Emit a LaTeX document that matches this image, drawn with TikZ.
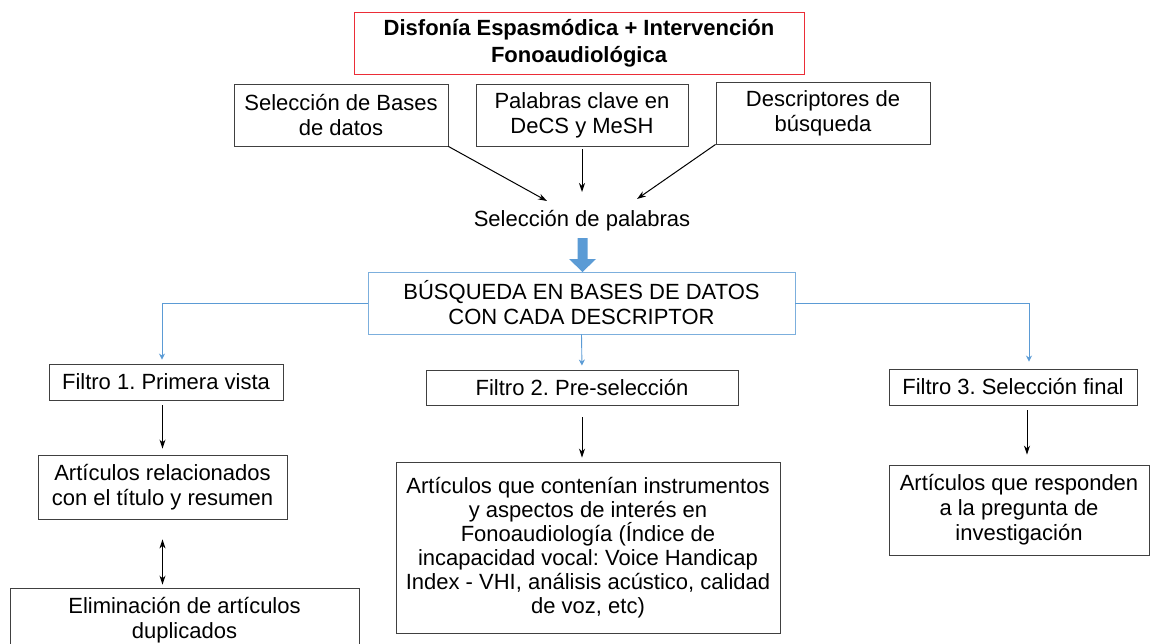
\documentclass[tikz,border=0pt]{standalone}
\usepackage{fontspec}
\setmainfont{Liberation Sans}
\usetikzlibrary{arrows.meta}
\definecolor{azul}{RGB}{91,155,213}
\definecolor{rojo}{RGB}{235,45,55}
\frenchspacing
\begin{document}
\begin{tikzpicture}[x=1pt, y=-1pt,
        caja/.style={draw=black!75, line width=0.9pt, align=center, inner sep=0pt, font=\fontsize{22}{25}\selectfont},
        texto/.style={align=center, inner sep=0pt, font=\fontsize{22}{25}\selectfont},
        flecha/.style={line width=1pt, -{Stealth[length=9pt,width=6pt]}},
        doble/.style={line width=1pt, {Stealth[length=9pt,width=6pt]}-{Stealth[length=9pt,width=6pt]}},
        ramal/.style={draw=azul, line width=0.9pt, -{Stealth[length=6pt,width=6pt]}}]
        \useasboundingbox (0,0) rectangle (1151,643);
        \clip (0,0) rectangle (1151,643);
        % tema
        \node[caja, draw=rojo, minimum width=450, minimum height=62, font=\fontsize{22}{27}\selectfont\bfseries] (titulo) at (579,43) {Disfonía Espasmódica + Intervención\\Fonoaudiológica};
        % fuentes
        \node[caja, minimum width=214, minimum height=62] (bases) at (341,115) {Selección de Bases\\de datos};
        \node[caja, minimum width=212, minimum height=62] (clave) at (582,115) {Palabras clave en\\DeCS y MeSH};
        \node[caja, minimum width=214, minimum height=62] (descr) at (823,113) {Descriptores de\\búsqueda};
        \node[texto] (palabras) at (582,221) {Selección de palabras};
        \coordinate (pi) at (547,201);
        \coordinate (pc) at (582,192);
        \coordinate (pd) at (637,199);
        \draw[flecha] (bases.south east) -- (pi);
        \draw[flecha] (clave.south) ++(0,3) -- (pc);
        \draw[flecha] (descr.south west) -- (pd);
        % busqueda
        \fill[azul] (577.5,238) -- (587.5,238) -- (587.5,259) -- (596,259) -- (582.5,272) -- (569,259) -- (577.5,259) -- cycle;
        \node[caja, draw=azul!80, minimum width=427, minimum height=62] (busq) at (581.5,303) {BÚSQUEDA EN BASES DE DATOS\\CON CADA DESCRIPTOR};
        % filtros
        \node[caja, minimum width=234, minimum height=36] (f1) at (166,382) {Filtro 1. Primera vista};
        \node[caja, minimum width=312, minimum height=35] (f2) at (582,387.5) {Filtro 2. Pre-selección};
        \node[caja, minimum width=248, minimum height=36] (f3) at (1013,387) {Filtro 3. Selección final};
        \draw[ramal, shorten >=4] (busq.west) -| ([xshift=-4]f1.north);
        \draw[ramal, shorten >=4] (busq.south) -- (f2.north);
        \draw[ramal, shorten >=7] (busq.east) -| ([xshift=16]f3.north);
        % resultados
        \node[caja, minimum width=249, minimum height=64] (rel) at (162.5,487) {Artículos relacionados\\con el título y resumen};
        \node[caja, minimum width=349, minimum height=64] (elim) at (184.5,620) {Eliminación de artículos\\duplicados};
        \node[caja, minimum width=384, minimum height=171, font=\fontsize{22}{24}\selectfont] (instr) at (588,547.5) {Artículos que contenían instrumentos\\y aspectos de interés en\\Fonoaudiología (Índice de\\incapacidad vocal: Voice Handicap\\Index - VHI, análisis acústico, calidad\\de voz, etc)};
        \node[caja, minimum width=260, minimum height=90] (resp) at (1019,510) {Artículos que responden\\a la pregunta de\\investigación};
        \draw[flecha, shorten <=5, shorten >=6] (rel.north |- f1.south) -- (rel.north);
        \draw[doble, shorten <=20, shorten >=3] (rel.south) -- (rel.south |- elim.north);
        \draw[flecha, shorten <=12, shorten >=4] (f2.south) -- (f2.south |- instr.north);
        \draw[flecha, shorten <=5, shorten >=10] ([xshift=14]f3.south) -- ([xshift=14]f3.south |- resp.north);
\end{tikzpicture}
\end{document}
